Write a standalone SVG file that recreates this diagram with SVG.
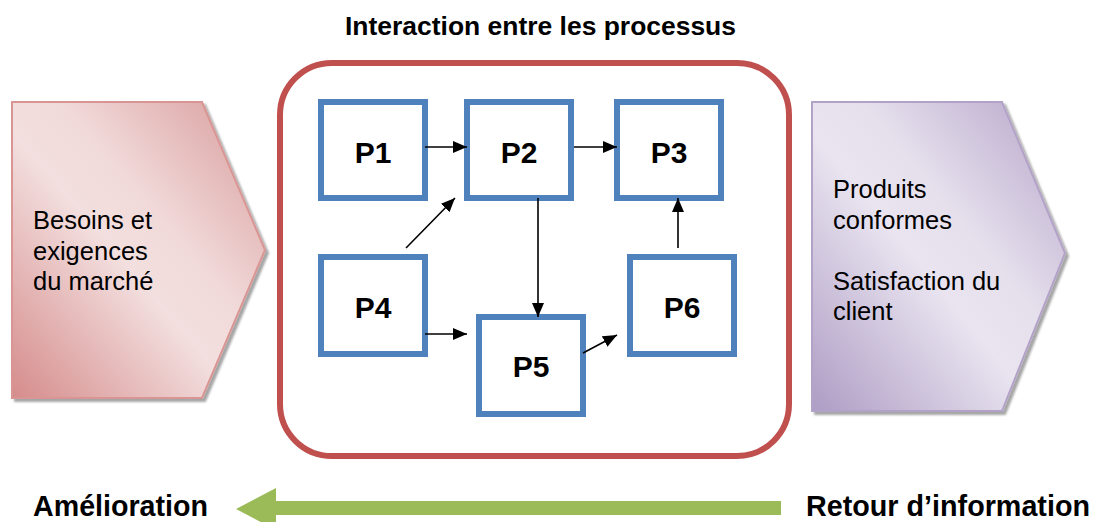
<svg xmlns="http://www.w3.org/2000/svg" width="1094" height="522" viewBox="0 0 1094 522">
<style>
.box{fill:#fff;stroke:#4f81bd;stroke-width:6}
.plabel{font-family:"Liberation Sans",Arial,sans-serif;font-weight:bold;font-size:30px;fill:#000;text-anchor:middle}
.side{font-family:"Liberation Sans",Arial,sans-serif;font-size:25.5px;fill:#000}
.bold{font-family:"Liberation Sans",Arial,sans-serif;font-weight:bold;fill:#000}
.conn{stroke:#000;stroke-width:1.6;fill:none;marker-end:url(#ah)}
</style>
<defs>
<marker id="ah" viewBox="0 0 14 12" refX="14" refY="6" markerWidth="14" markerHeight="12" markerUnits="userSpaceOnUse" orient="auto">
<path d="M0,0 L14,6 L0,12 z" fill="#000"/>
</marker>
<linearGradient id="gRed" x1="0" y1="1" x2="1" y2="0">
<stop offset="0" stop-color="#d58c8b"/>
<stop offset="0.45" stop-color="#f3dfdf"/>
<stop offset="0.6" stop-color="#f1d9d9"/>
<stop offset="1" stop-color="#d79a99"/>
</linearGradient>
<linearGradient id="gPur" x1="0" y1="1" x2="1" y2="0">
<stop offset="0" stop-color="#ae9cc4"/>
<stop offset="0.45" stop-color="#e9e4f0"/>
<stop offset="0.6" stop-color="#e6e0ed"/>
<stop offset="1" stop-color="#b4a3c8"/>
</linearGradient>
<filter id="sh" x="-5%" y="-5%" width="115%" height="115%">
<feDropShadow dx="3" dy="3" stdDeviation="1.2" flood-color="#000" flood-opacity="0.35"/>
</filter>
</defs>

<text class="bold" x="345" y="35" font-size="26" textLength="391" lengthAdjust="spacingAndGlyphs">Interaction entre les processus</text>

<g id="input">
<path d="M12,102 L202,102 L265,250 L202,398 L12,398 Z" fill="url(#gRed)" stroke="#d99594" stroke-width="2" filter="url(#sh)"/>
<text class="side" x="33" y="229">Besoins et</text>
<text class="side" x="33" y="259.5">exigences</text>
<text class="side" x="33" y="290">du marché</text>
</g>

<g id="output">
<path d="M812,102 L1002,102 L1065,253 L1002,411 L812,411 Z" fill="url(#gPur)" stroke="#b3a2c7" stroke-width="2" filter="url(#sh)"/>
<text class="side" x="833" y="198">Produits</text>
<text class="side" x="833" y="229">conformes</text>
<text class="side" x="833" y="290">Satisfaction du</text>
<text class="side" x="833" y="320">client</text>
</g>

<g id="system">
<rect x="280" y="63" width="509" height="393" rx="52" ry="52" fill="#fff" stroke="#c0504d" stroke-width="6"/>
</g>

<g id="P1"><rect class="box" x="321" y="102" width="104" height="96"/><text class="plabel" x="373" y="163">P1</text></g>
<g id="P2"><rect class="box" x="467" y="102" width="104" height="96"/><text class="plabel" x="519" y="163">P2</text></g>
<g id="P3"><rect class="box" x="617" y="102" width="104" height="96"/><text class="plabel" x="669" y="163">P3</text></g>
<g id="P4"><rect class="box" x="321" y="257" width="104" height="97"/><text class="plabel" x="373" y="318">P4</text></g>
<g id="P5"><rect class="box" x="479" y="317" width="104" height="97"/><text class="plabel" x="531" y="377">P5</text></g>
<g id="P6"><rect class="box" x="630" y="257" width="104" height="97"/><text class="plabel" x="682" y="318">P6</text></g>

<g id="connectors">
<line class="conn" x1="425" y1="147" x2="467" y2="147"/>
<line class="conn" x1="574" y1="147" x2="617" y2="147"/>
<line class="conn" x1="406" y1="248" x2="455" y2="198"/>
<line class="conn" x1="538" y1="198" x2="538" y2="317"/>
<line class="conn" x1="425" y1="334" x2="467" y2="334"/>
<line class="conn" x1="583" y1="353" x2="617" y2="335"/>
<line class="conn" x1="678" y1="248" x2="678" y2="198"/>
</g>

<g id="feedback">
<path d="M781,501 L276,501 L276,488 L236,509 L276,530 L276,515 L781,515 Z" fill="#9bbb59"/>
<text class="bold" x="33" y="516" font-size="29" textLength="175" lengthAdjust="spacingAndGlyphs">Amélioration</text>
<text class="bold" x="806" y="516" font-size="29" textLength="284" lengthAdjust="spacingAndGlyphs">Retour d’information</text>
</g>
</svg>
